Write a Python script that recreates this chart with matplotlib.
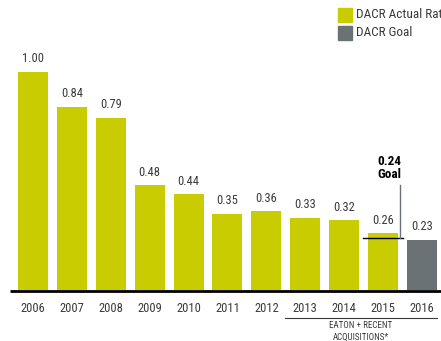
import numpy as np
import matplotlib
matplotlib.use("Agg")
import matplotlib.pyplot as plt
from matplotlib.patches import Rectangle

years = ["2006", "2007", "2008", "2009", "2010", "2011", "2012", "2013", "2014", "2015", "2016"]
rates = [1.00, 0.84, 0.79, 0.48, 0.44, 0.35, 0.36, 0.33, 0.32, 0.26, 0.23]
is_goal = [False] * 10 + [True]
goal_2015 = 0.24

YELLOW = "#c8cc00"
GREY = "#6b7276"
TEXT = "#3a3a3a"
plt.rcParams["font.family"] = ["Roboto Condensed", "DejaVu Sans"]

fig = plt.figure(figsize=(4.41, 3.41), dpi=100)
ax = fig.add_axes([0, 0, 1, 1])
ax.set_xlim(-0.848, 10.49)
ax.set_ylim(-0.234, 1.330)
ax.axis("off")

x = np.arange(len(years))
colors = [GREY if g else YELLOW for g in is_goal]
ax.bar(x, rates, width=0.77, color=colors, zorder=2)
for xi, v in zip(x, rates):
    ax.text(xi, v + 0.03, f"{v:.2f}", ha="center", va="bottom", fontsize=9, color=TEXT)
for xi, y in zip(x, years):
    ax.text(xi, -0.083, y, ha="center", va="center", fontsize=9, color=TEXT)

# baseline
ax.plot([-0.6, 10.49], [-0.004, -0.004], color="black", lw=2, solid_capstyle="butt", zorder=3)

# 2015 goal marker
ax.plot([8.48, 9.51], [goal_2015, goal_2015], color="black", lw=1, zorder=3)
ax.plot([9.43, 9.43], [goal_2015, 0.48], color=GREY, lw=1, zorder=3)
ax.text(9.15, 0.588, f"{goal_2015:.2f}", ha="center", va="center", fontsize=9.5,
        fontweight="bold", color="black")
ax.text(9.15, 0.53, "Goal", ha="center", va="center", fontsize=9.5,
        fontweight="bold", color="black")

# acquisitions bracket
ax.plot([6.48, 10.39], [-0.128, -0.128], color=TEXT, lw=0.8)
ax.text(8.43, -0.163, "EATON + RECENT", ha="center", va="center", fontsize=6.5, color=TEXT)
ax.text(8.43, -0.218, "ACQUISITIONS*", ha="center", va="center", fontsize=6.5, color=TEXT)

# legend
W, H = 441, 341
for i, (c, lab) in enumerate([(YELLOW, "DACR Actual Rate"), (GREY, "DACR Goal")]):
    top = 8 + i * 18
    fig.patches.append(Rectangle((338 / W, 1 - (top + 14) / H), 14 / W, 14 / H,
                                 transform=fig.transFigure, color=c))
    fig.text(356 / W, 1 - (top + 7) / H, lab, ha="left", va="center", fontsize=9.5, color=TEXT)

fig.savefig("out.png", dpi=100)
